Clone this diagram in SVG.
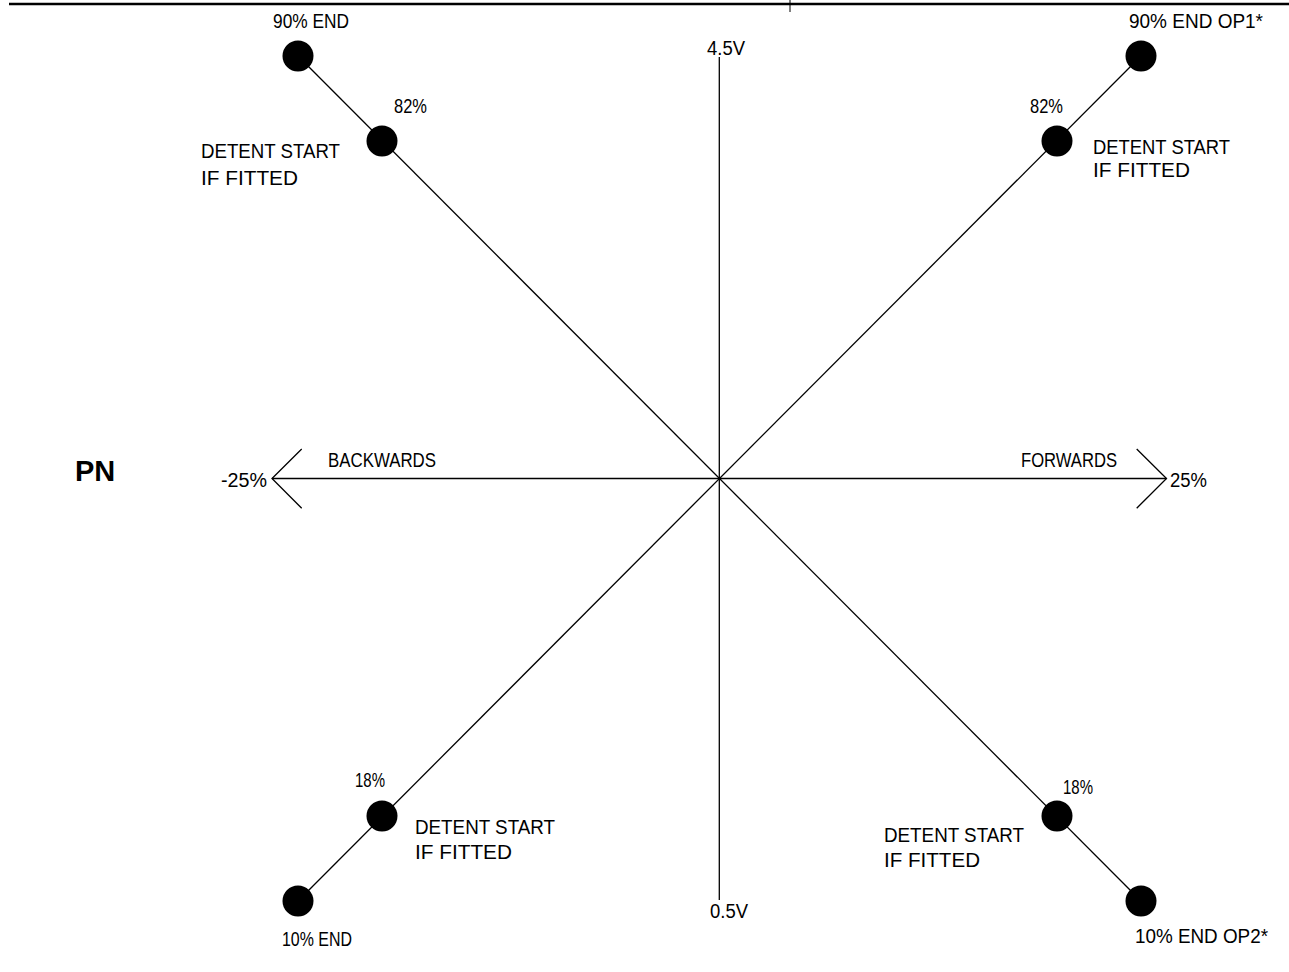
<svg xmlns="http://www.w3.org/2000/svg" width="1289" height="972" viewBox="0 0 1289 972">
<style>
.ln{stroke:#000;stroke-width:1.3;fill:none}
.dot{fill:#000}
.t{font-family:"Liberation Sans","DejaVu Sans",sans-serif;font-size:20px;fill:#000;font-weight:normal}
.pn{font-family:"Liberation Sans",Arial,sans-serif;font-size:29px;font-weight:bold;fill:#000}
</style>
<rect width="1289" height="972" fill="#fff"/>
<g id="frame">
<line x1="9" y1="4" x2="1289" y2="4" stroke="#000" stroke-width="2.5"/>
<line x1="790" y1="0" x2="790" y2="12" stroke="#000" stroke-width="1"/>
</g>
<g id="connectors">
<line class="ln" x1="719.3" y1="57" x2="719.3" y2="900"/>
<line class="ln" x1="272" y1="478.5" x2="1166.5" y2="478.5"/>
<polyline class="ln" points="301.7,449 272,478.5 301.7,508.3"/>
<polyline class="ln" points="1136.7,449 1166.5,478.5 1136.7,508.3"/>
<line class="ln" x1="298" y1="56" x2="1141" y2="901"/>
<line class="ln" x1="1141" y1="56" x2="298" y2="901"/>
</g>
<g id="node-tl-end"><circle class="dot" cx="298" cy="56" r="15.5"/><text class="t" x="273" y="28" textLength="76" lengthAdjust="spacingAndGlyphs">90% END</text></g>
<g id="node-tl-detent"><circle class="dot" cx="382" cy="141" r="15.5"/><text class="t" x="394" y="113" textLength="33" lengthAdjust="spacingAndGlyphs">82%</text>
<text class="t" x="201" y="158" textLength="139" lengthAdjust="spacingAndGlyphs">DETENT START</text><text class="t" x="201" y="185" textLength="97" lengthAdjust="spacingAndGlyphs">IF FITTED</text></g>
<g id="node-tr-end"><circle class="dot" cx="1141" cy="56" r="15.5"/><text class="t" x="1129" y="28" textLength="134" lengthAdjust="spacingAndGlyphs">90% END OP1*</text></g>
<g id="node-tr-detent"><circle class="dot" cx="1057" cy="141" r="15.5"/><text class="t" x="1030" y="113" textLength="33" lengthAdjust="spacingAndGlyphs">82%</text>
<text class="t" x="1093" y="154" textLength="137" lengthAdjust="spacingAndGlyphs">DETENT START</text><text class="t" x="1093" y="177" textLength="97" lengthAdjust="spacingAndGlyphs">IF FITTED</text></g>
<g id="node-bl-detent"><circle class="dot" cx="382" cy="816" r="15.5"/><text class="t" x="355" y="787" textLength="30" lengthAdjust="spacingAndGlyphs">18%</text>
<text class="t" x="415" y="834" textLength="140" lengthAdjust="spacingAndGlyphs">DETENT START</text><text class="t" x="415" y="859" textLength="97" lengthAdjust="spacingAndGlyphs">IF FITTED</text></g>
<g id="node-bl-end"><circle class="dot" cx="298" cy="901" r="15.5"/><text class="t" x="282" y="946" textLength="70" lengthAdjust="spacingAndGlyphs">10% END</text></g>
<g id="node-br-detent"><circle class="dot" cx="1057" cy="816" r="15.5"/><text class="t" x="1063" y="794" textLength="30" lengthAdjust="spacingAndGlyphs">18%</text>
<text class="t" x="884" y="842" textLength="140" lengthAdjust="spacingAndGlyphs">DETENT START</text><text class="t" x="884" y="867" textLength="96" lengthAdjust="spacingAndGlyphs">IF FITTED</text></g>
<g id="node-br-end"><circle class="dot" cx="1141" cy="901" r="15.5"/><text class="t" x="1135" y="943" textLength="133" lengthAdjust="spacingAndGlyphs">10% END OP2*</text></g>
<g id="axis-labels">
<text class="t" x="707" y="55" textLength="38" lengthAdjust="spacingAndGlyphs">4.5V</text>
<text class="t" x="710" y="918" textLength="38" lengthAdjust="spacingAndGlyphs">0.5V</text>
<text class="t" x="328" y="467" textLength="108" lengthAdjust="spacingAndGlyphs">BACKWARDS</text>
<text class="t" x="221" y="487" textLength="46" lengthAdjust="spacingAndGlyphs">-25%</text>
<text class="t" x="1021" y="467" textLength="96" lengthAdjust="spacingAndGlyphs">FORWARDS</text>
<text class="t" x="1170" y="487" textLength="37" lengthAdjust="spacingAndGlyphs">25%</text>
<text class="pn" x="75" y="481">PN</text>
</g>
</svg>
